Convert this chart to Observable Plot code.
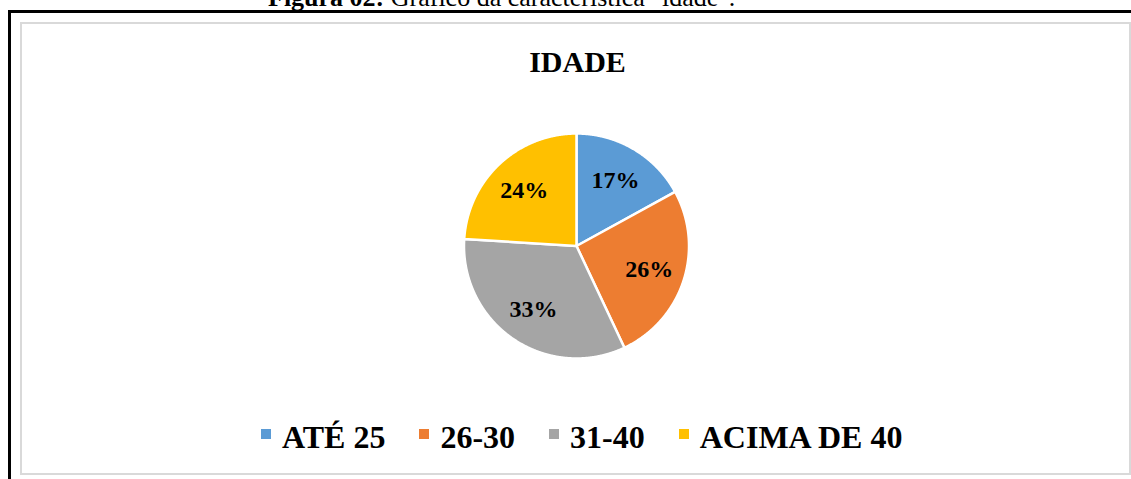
<!DOCTYPE html>
<html>
<head>
<meta charset="utf-8">
<script src="https://cdn.jsdelivr.net/npm/d3@7"></script>
<script src="https://cdn.jsdelivr.net/npm/@observablehq/plot@0.6"></script>
<style>
  html, body { margin: 0; padding: 0; background: #fff; }
  #page { position: relative; width: 1131px; height: 479px; overflow: hidden;
          font-family: "Liberation Serif", "Times New Roman", serif; color: #000; }
  #caption { position: absolute; left: 268px; top: -15px; font-size: 26px; line-height: 26px; white-space: nowrap; }
  #caption b { font-weight: bold; }
  #frame { position: absolute; left: 8px; top: 10px; width: 2000px; height: 2000px;
           border-left: 3px solid #000; border-top: 3px solid #000; }
  #inner { position: absolute; left: 20px; top: 22px; width: 1107px; height: 449px;
           border: 2px solid #d9d9d9; background: #fff; }
  #title { position: absolute; left: 477.5px; width: 200px; top: 47px; text-align: center;
           font-size: 30px; line-height: 30px; font-weight: bold; white-space: nowrap; }
  #legend { position: absolute; left: 261px; top: 421px; display: flex; font-size: 32px;
            line-height: 32px; font-weight: bold; white-space: nowrap; }
  .item { display: inline-flex; align-items: center; margin-right: 34px; }
  .sw { width: 10px; height: 10px; margin-right: 11px; position: relative; top: -3px; }
  #chart { position: absolute; left: 0; top: 0; }
</style>
</head>
<body>
<div id="page">
  <div id="frame"></div>
  <div id="inner"></div>
  <div id="caption"></div>
  <div id="title"></div>
  <div id="chart"></div>
  <div id="legend"></div>
</div>
<script>
// ---- data ----
const categories = ["ATÉ 25", "26-30", "31-40", "ACIMA DE 40"];
const values = [17, 26, 33, 24];
const colors = ["#5B9BD5", "#ED7D31", "#A5A5A5", "#FFC000"];
const chartTitle = "IDADE";
const captionBold = "Figura 02:";
const captionRest = " Gráfico da característica \"idade\".";

// ---- build slice polygons (clockwise from 12 o'clock) ----
const total = d3.sum(values);
const slicePoints = [];
const labels = [];
let cum = 0;
values.forEach((v, i) => {
  const s = cum / total, e = (cum + v) / total;
  const key = categories[i];
  slicePoints.push({key, x: 0, y: 0});
  const n = Math.max(2, Math.ceil((e - s) * 1440));
  for (let k = 0; k <= n; k++) {
    const a = 2 * Math.PI * (s + (e - s) * k / n);
    slicePoints.push({key, x: Math.sin(a), y: Math.cos(a)});
  }
  slicePoints.push({key, x: 0, y: 0});
  const m = 2 * Math.PI * (s + e) / 2;
  labels.push({key, x: 0.68 * Math.sin(m), y: 0.68 * Math.cos(m), label: Math.round(v / total * 100) + "%"});
  cum += v;
});

// ---- text ----
const cap = document.getElementById("caption");
const b = document.createElement("b"); b.textContent = captionBold; cap.appendChild(b);
cap.appendChild(document.createTextNode(captionRest));
document.getElementById("title").textContent = chartTitle;

// ---- pie ----
const plot = Plot.plot({
  width: 1131, height: 479,
  marginLeft: 463.5, marginRight: 442.5, marginTop: 133, marginBottom: 121,
  x: {domain: [-1, 1], axis: null},
  y: {domain: [-1, 1], axis: null},
  color: {domain: categories, range: colors},
  style: {background: "transparent", overflow: "visible"},
  marks: [
    Plot.line(slicePoints, {x: "x", y: "y", z: "key", fill: "key", stroke: "white", strokeWidth: 2.5, strokeLinejoin: "round"}),
    Plot.text(labels, {x: "x", y: "y", text: "label", fontSize: 24, fontWeight: "bold", fill: "black",
                       fontFamily: "Liberation Serif, Times New Roman, serif"})
  ]
});
document.getElementById("chart").appendChild(plot);

// ---- legend ----
const legend = d3.select("#legend");
categories.forEach((c, i) => {
  const it = legend.append("div").attr("class", "item");
  it.append("div").attr("class", "sw").style("background", colors[i]);
  it.append("span").text(c);
});
</script>
</body>
</html>
